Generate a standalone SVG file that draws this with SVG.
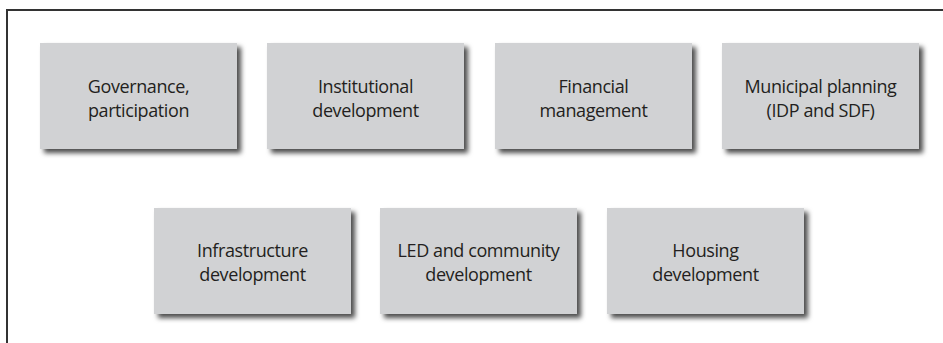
<svg xmlns="http://www.w3.org/2000/svg" width="943" height="343" viewBox="0 0 943 343">
  <defs>
    <filter id="shadow" x="-10%" y="-10%" width="125%" height="135%">
      <feDropShadow dx="4" dy="4" stdDeviation="2.5" flood-color="#000" flood-opacity="0.7"/>
    </filter>
  </defs>
  <style>
    .box { fill: #d1d2d4; filter: url(#shadow); }
    .label { font-family: "Open Sans", "Noto Sans", "Liberation Sans", sans-serif; font-size: 18px; letter-spacing: -0.4px; fill: #231f20; text-anchor: middle; }
    .frame { fill: none; stroke: #333; stroke-width: 2; }
  </style>
  <rect width="943" height="343" fill="#fff"/>
  <!-- outer frame, open to the right and bottom -->
  <path class="frame" d="M7 343 V10 H943"/>

  <g id="governance">
    <rect class="box" x="40" y="43" width="197" height="106"/>
    <text class="label" x="138.5" y="93">Governance,</text>
    <text class="label" x="138.5" y="117">participation</text>
  </g>
  <g id="institutional">
    <rect class="box" x="267" y="43" width="197" height="106"/>
    <text class="label" x="365.5" y="93">Institutional</text>
    <text class="label" x="365.5" y="117">development</text>
  </g>
  <g id="financial">
    <rect class="box" x="495" y="43" width="197" height="106"/>
    <text class="label" x="593.5" y="93">Financial</text>
    <text class="label" x="593.5" y="117">management</text>
  </g>
  <g id="planning">
    <rect class="box" x="722" y="43" width="197" height="106"/>
    <text class="label" x="820.5" y="93">Municipal planning</text>
    <text class="label" x="820.5" y="117">(IDP and SDF)</text>
  </g>
  <g id="infrastructure">
    <rect class="box" x="154" y="208" width="197" height="106"/>
    <text class="label" x="252.5" y="257">Infrastructure</text>
    <text class="label" x="252.5" y="281">development</text>
  </g>
  <g id="led">
    <rect class="box" x="380" y="208" width="197" height="106"/>
    <text class="label" x="478.5" y="257">LED and community</text>
    <text class="label" x="478.5" y="281">development</text>
  </g>
  <g id="housing">
    <rect class="box" x="607" y="208" width="197" height="106"/>
    <text class="label" x="705.5" y="257">Housing</text>
    <text class="label" x="705.5" y="281">development</text>
  </g>
  <g id="connectors"/>
</svg>
